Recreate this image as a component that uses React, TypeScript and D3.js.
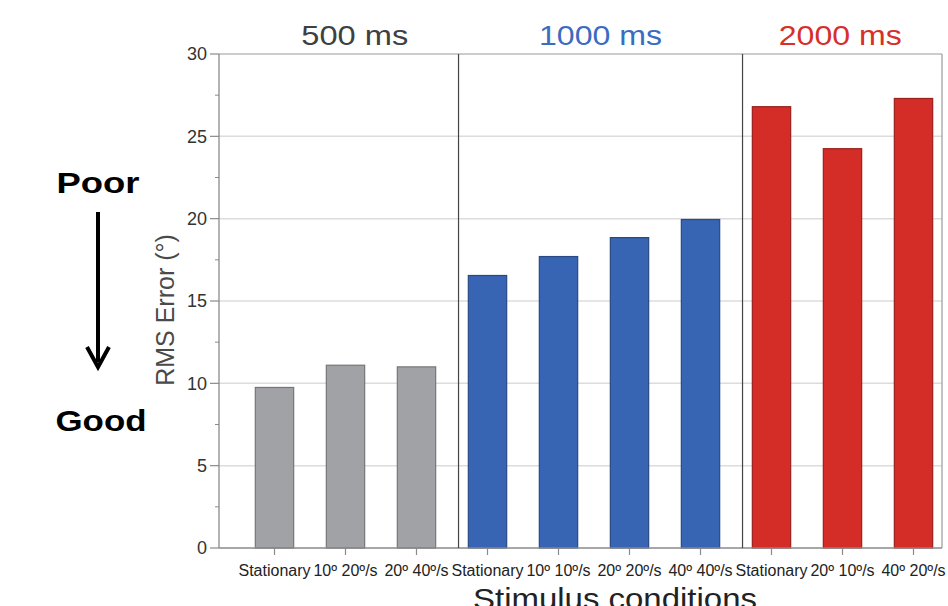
import React from 'react';
import * as d3 from 'd3';

// chart values
const groups = ['500 ms', '1000 ms', '2000 ms'];
const groupColors = ['#a1a2a6', '#3765b3', '#d42d27'];
const groupTitleColors = ['#404040', '#3a6cbf', '#d63029'];
const groupSizes = [3, 4, 3];
const conditions = [
  'Stationary', '10º 20º/s', '20º 40º/s',
  'Stationary', '10º 10º/s', '20º 20º/s', '40º 40º/s',
  'Stationary', '20º 10º/s', '40º 20º/s',
];
const rmsError = [9.75, 11.1, 11.0, 16.55, 17.7, 18.85, 19.95, 26.8, 24.25, 27.3];
const yTicks = [0, 5, 10, 15, 20, 25, 30];
const yMinorTicks = [2.5, 7.5, 12.5, 17.5, 22.5, 27.5];

const W = 948;
const H = 606;
const plot = { left: 219, right: 942, top: 54, bottom: 548 };
const font = 'Liberation Sans, Arial, Helvetica, sans-serif';

export default function App() {
  const y = d3.scaleLinear().domain([0, 30]).range([plot.bottom, plot.top]);
  const x = d3.scaleBand<number>()
    .domain(d3.range(conditions.length))
    .range([239, 949])
    .paddingInner(0.46)
    .paddingOuter(0.23);

  const groupOf = (i: number) => {
    let acc = 0;
    for (let g = 0; g < groupSizes.length; g++) {
      acc += groupSizes[g];
      if (i < acc) return g;
    }
    return groupSizes.length - 1;
  };
  const starts = groupSizes.map((_, g) => d3.sum(groupSizes.slice(0, g)));
  const gap = x.step() - x.bandwidth();
  const dividers = starts.slice(1).map((s) => x(s)! - gap * 0.3);
  const groupEdges = [plot.left, ...dividers, plot.right];

  const arrowX = 98;

  return (
    <svg width={W} height={H} style={{ position: 'absolute', left: 0, top: 0, background: '#fff' }}
      fontFamily={font}>
      {/* grid */}
      {yTicks.filter((t) => t > 0 && t < 30).map((t) => (
        <line key={'g' + t} x1={plot.left} x2={plot.right} y1={y(t)} y2={y(t)}
          stroke="#dcdcdc" strokeWidth={1.5} />
      ))}

      {/* bars */}
      {rmsError.map((v, i) => {
        const g = groupOf(i);
        const c = groupColors[g];
        return (
          <rect key={'b' + i} x={x(i)} y={y(v)} width={x.bandwidth()} height={y(0) - y(v)}
            fill={c} stroke={d3.color(c)!.darker(0.9).formatHex()} strokeWidth={1.2} />
        );
      })}

      {/* frame */}
      <line x1={plot.left} x2={plot.right} y1={plot.top} y2={plot.top} stroke="#9a9a9a" strokeWidth={1.2} />
      <line x1={plot.right} x2={plot.right} y1={plot.top} y2={plot.bottom} stroke="#9a9a9a" strokeWidth={1.2} />
      <line x1={plot.left} x2={plot.left} y1={plot.top} y2={plot.bottom} stroke="#8a8a8a" strokeWidth={1.3} />
      <line x1={plot.left} x2={plot.right} y1={plot.bottom} y2={plot.bottom} stroke="#8a8a8a" strokeWidth={1.3} />

      {/* group dividers */}
      {dividers.map((d, k) => (
        <line key={'d' + k} x1={d} x2={d} y1={plot.top} y2={plot.bottom} stroke="#444" strokeWidth={1.2} />
      ))}

      {/* y axis ticks */}
      {yTicks.map((t) => (
        <g key={'yt' + t}>
          <line x1={plot.left - 9} x2={plot.left} y1={y(t)} y2={y(t)} stroke="#8a8a8a" strokeWidth={1.2} />
          <text x={plot.left - 12} y={y(t)} dy="0.35em" textAnchor="end" fontSize={18} fill="#333">{t}</text>
        </g>
      ))}
      {yMinorTicks.map((t) => (
        <line key={'ym' + t} x1={plot.left - 4} x2={plot.left} y1={y(t)} y2={y(t)} stroke="#8a8a8a" strokeWidth={1} />
      ))}

      {/* x axis ticks and labels */}
      {conditions.map((c, i) => {
        const cx = x(i)! + x.bandwidth() / 2;
        return (
          <g key={'xt' + i}>
            <line x1={cx} x2={cx} y1={plot.bottom} y2={plot.bottom + 7} stroke="#8a8a8a" strokeWidth={1.2} />
            <text x={cx} y={576} textAnchor="middle" fontSize={16} fill="#222">{c}</text>
          </g>
        );
      })}

      {/* group headers */}
      {groups.map((gname, g) => (
        <text key={'h' + g} x={(groupEdges[g] + groupEdges[g + 1]) / 2 + (g === 0 ? 16 : g === 2 ? -2 : 0)}
          y={45} textAnchor="middle" fontSize={28} fill={groupTitleColors[g]}
          textLength={gname.length === 6 ? 107 : 123} lengthAdjust="spacingAndGlyphs">{gname}</text>
      ))}

      {/* axis titles */}
      <text transform={`translate(174, ${310}) rotate(-90)`} textAnchor="middle" fontSize={25} fill="#4a4a4a">
        RMS Error (°)
      </text>
      <text x={615} y={609} textAnchor="middle" fontSize={30} fill="#222"
        textLength={284} lengthAdjust="spacingAndGlyphs">Stimulus conditions</text>

      {/* Poor / Good annotation */}
      <text x={arrowX} y={193} textAnchor="middle" fontSize={30} fontWeight="bold" fill="#000"
        textLength={83} lengthAdjust="spacingAndGlyphs">Poor</text>
      <line x1={arrowX} x2={arrowX} y1={212} y2={362} stroke="#000" strokeWidth={4} />
      <path d={`M${arrowX - 11},${347} L${arrowX},${367} L${arrowX + 11},${347}`} fill="none" stroke="#000"
        strokeWidth={4} strokeLinejoin="miter" />
      <text x={arrowX + 3} y={431} textAnchor="middle" fontSize={30} fontWeight="bold" fill="#000"
        textLength={91} lengthAdjust="spacingAndGlyphs">Good</text>
    </svg>
  );
}
